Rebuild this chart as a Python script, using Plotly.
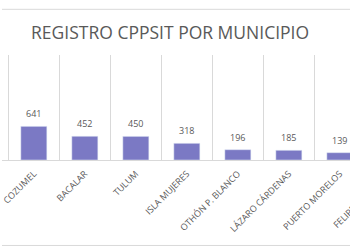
import plotly.graph_objects as go

categories = ["COZUMEL", "BACALAR", "TULUM", "ISLA MUJERES", "OTHÓN P. BLANCO",
              "LÁZARO CÁRDENAS", "PUERTO MORELOS", "FELIPE CARRILLO PUERTO"]
values = [641, 452, 450, 318, 196, 185, 139, None]
title_text = "REGISTRO CPPSIT POR MUNICIPIO"

BAR = "#7B79C4"
GRAY = "#595959"
GRID = "#D9D9D9"
FONT = "Open Sans"

x_range = [-0.624, 6.199]
y_range = [0, 2000]

fig = go.Figure()
fig.add_trace(go.Bar(x=categories, y=values, marker_color=BAR, width=0.51,
                     hoverinfo="skip"))

# data labels above bars
for c, v in zip(categories, values):
    if v is None:
        continue
    fig.add_annotation(x=c, y=v, xref="x", yref="y", text=str(v), showarrow=False,
                       yanchor="bottom", yshift=4,
                       font=dict(family=FONT, size=9, color=GRAY))

# category labels beyond the visible range (cut by the frame)
span = x_range[1] - x_range[0]
for i, c in enumerate(categories):
    if i > x_range[1]:
        fig.add_annotation(x=(i - x_range[0]) / span, y=0, xref="paper", yref="paper",
                           text=c.replace("CARRILLO ", "CARRILLO<br>"), textangle=-45,
                           showarrow=False,
                           xanchor="right", yanchor="top", yshift=-9, xshift=10,
                           font=dict(family=FONT, size=9, color=GRAY))

# chart frame lines (top and bottom)
for yy in (1.435, -0.814):
    fig.add_shape(type="line", xref="paper", yref="paper", x0=0, x1=1, y0=yy, y1=yy,
                  line=dict(color=GRID, width=1))

fig.update_layout(
    width=350, height=250,
    margin=dict(l=0, r=0, t=55, b=90),
    paper_bgcolor="white", plot_bgcolor="white",
    showlegend=False,
    title=dict(text=title_text, x=0.486, xanchor="center", y=0.868, yanchor="middle",
               yref="container",
               font=dict(family=FONT, size=17.5, color=GRAY)),
    xaxis=dict(range=x_range, tickson="boundaries", showgrid=True, gridcolor=GRID,
               gridwidth=1, ticks="", tickangle=-45, showline=True, linecolor=GRID,
               ticklabelstandoff=4,
               tickfont=dict(family=FONT, size=9, color=GRAY), fixedrange=True),
    yaxis=dict(range=y_range, visible=False, showgrid=False, fixedrange=True),
)

fig.write_html("out.html")
